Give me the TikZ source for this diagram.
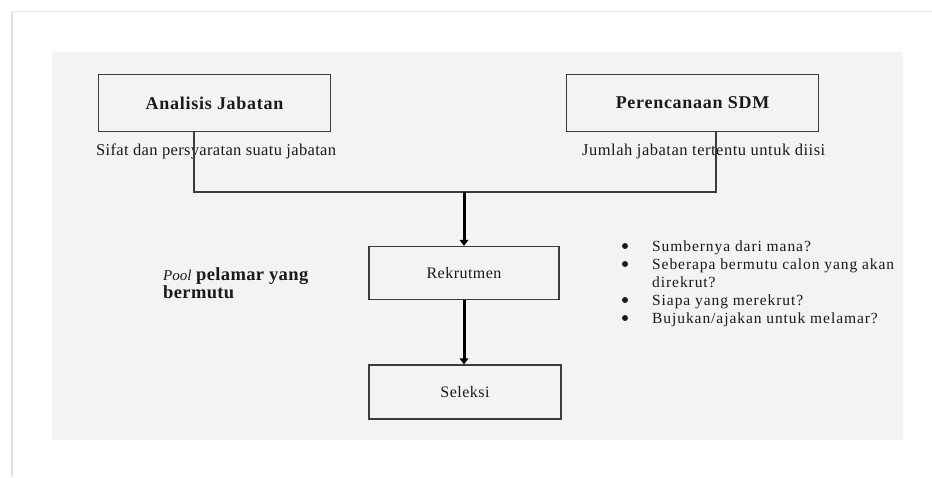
\documentclass[tikz,border=0pt]{standalone}
\usepackage{fontspec}
\setmainfont{Liberation Serif}
\usetikzlibrary{arrows.meta}
\definecolor{panel}{HTML}{F3F3F3}
\definecolor{edge}{HTML}{3C3C3C}
\definecolor{ink}{HTML}{1A1A1A}
\newcommand{\lsp}[1]{\addfontfeatures{LetterSpace=#1}}
\begin{document}
\begin{tikzpicture}[x=1pt,y=-1pt,
  titlebox/.style={draw=edge,line width=1.1pt,minimum height=57pt,
    font=\fontsize{18}{20}\selectfont\bfseries\lsp{4},text=ink,anchor=north west},
  plainbox/.style={draw=edge,line width=1.1pt,minimum height=53pt,
    font=\fontsize{16}{18}\selectfont\lsp{3},text=ink},
  note/.style={font=\fontsize{16.5}{18}\selectfont\lsp{2},text=ink,inner sep=0pt,anchor=base west},
  item/.style={font=\fontsize{15.5}{18}\selectfont\lsp{6},text=ink,inner sep=0pt,anchor=base west},
  dot/.style={circle,fill=ink,inner sep=0pt,minimum size=6pt},
  link/.style={draw=edge,line width=1.1pt},
  flow/.style={draw=black,line width=3pt,-{Triangle[width=8.5pt,length=6pt]}}]
\useasboundingbox (0,0) rectangle (932,477);
\fill[white] (0,0) rectangle (932,477);
% page frame
\draw[black!12,line width=2.5pt] (12,12) -- (12,477);
\draw[black!8,line width=1pt] (12,11) -- (932,11);
\fill[panel] (52,52) rectangle (903,440);
% boxes
\node[titlebox,minimum width=232pt] (aj) at (98,74) {Analisis Jabatan};
\node[titlebox,minimum width=252pt] (ps) at (566,74) {Perencanaan SDM};
\node[plainbox,minimum width=190pt] (rk) at (464,273) {Rekrutmen};
\node[plainbox,minimum width=192pt,minimum height=54pt] (sl) at (465,392) {Seleksi};
% captions
\node[note] (sf) at (96,155) {Sifat dan persyaratan suatu jabatan};
\node[note,font=\fontsize{16.5}{18}\selectfont\lsp{3}] (jm) at (582,155) {Jumlah jabatan tertentu untuk diisi};
% connectors
\coordinate (ajb) at (194,131);
\coordinate (psb) at (716,131);
\coordinate (j1) at (194,192);
\coordinate (j2) at (716,192);
\coordinate (jm1) at (464,192);
\draw[link] (ajb) -- (j1) -- (j2) -- (psb);
\draw[flow] (jm1) -- (rk.north);
\draw[flow] (rk.south) -- (rk.south |- sl.north);
% left label
\node[inner sep=0pt,anchor=base west,text=ink,
  font=\fontsize{18.5}{18}\selectfont] (pool) at (163,280)
  {\begin{tabular}[t]{@{}l@{}}
   {\itshape\fontsize{15}{18}\selectfont Pool} \textbf{\lsp{2}pelamar yang}\\
   \textbf{\lsp{2}bermutu}
   \end{tabular}};
% bullet list
\node[dot] (d1) at (625,246) {};
\node[dot] (d2) at (625,264) {};
\node[dot] (d3) at (625,300) {};
\node[dot] (d4) at (625,318) {};
\node[item] (i1) at (652,251) {Sumbernya dari mana?};
\node[item] (i2) at (652,269) {Seberapa bermutu calon yang akan};
\node[item] (i2b) at (652,287) {direkrut?};
\node[item] (i3) at (652,305) {Siapa yang merekrut?};
\node[item] (i4) at (652,323) {Bujukan/ajakan untuk melamar?};
\end{tikzpicture}
\end{document}
